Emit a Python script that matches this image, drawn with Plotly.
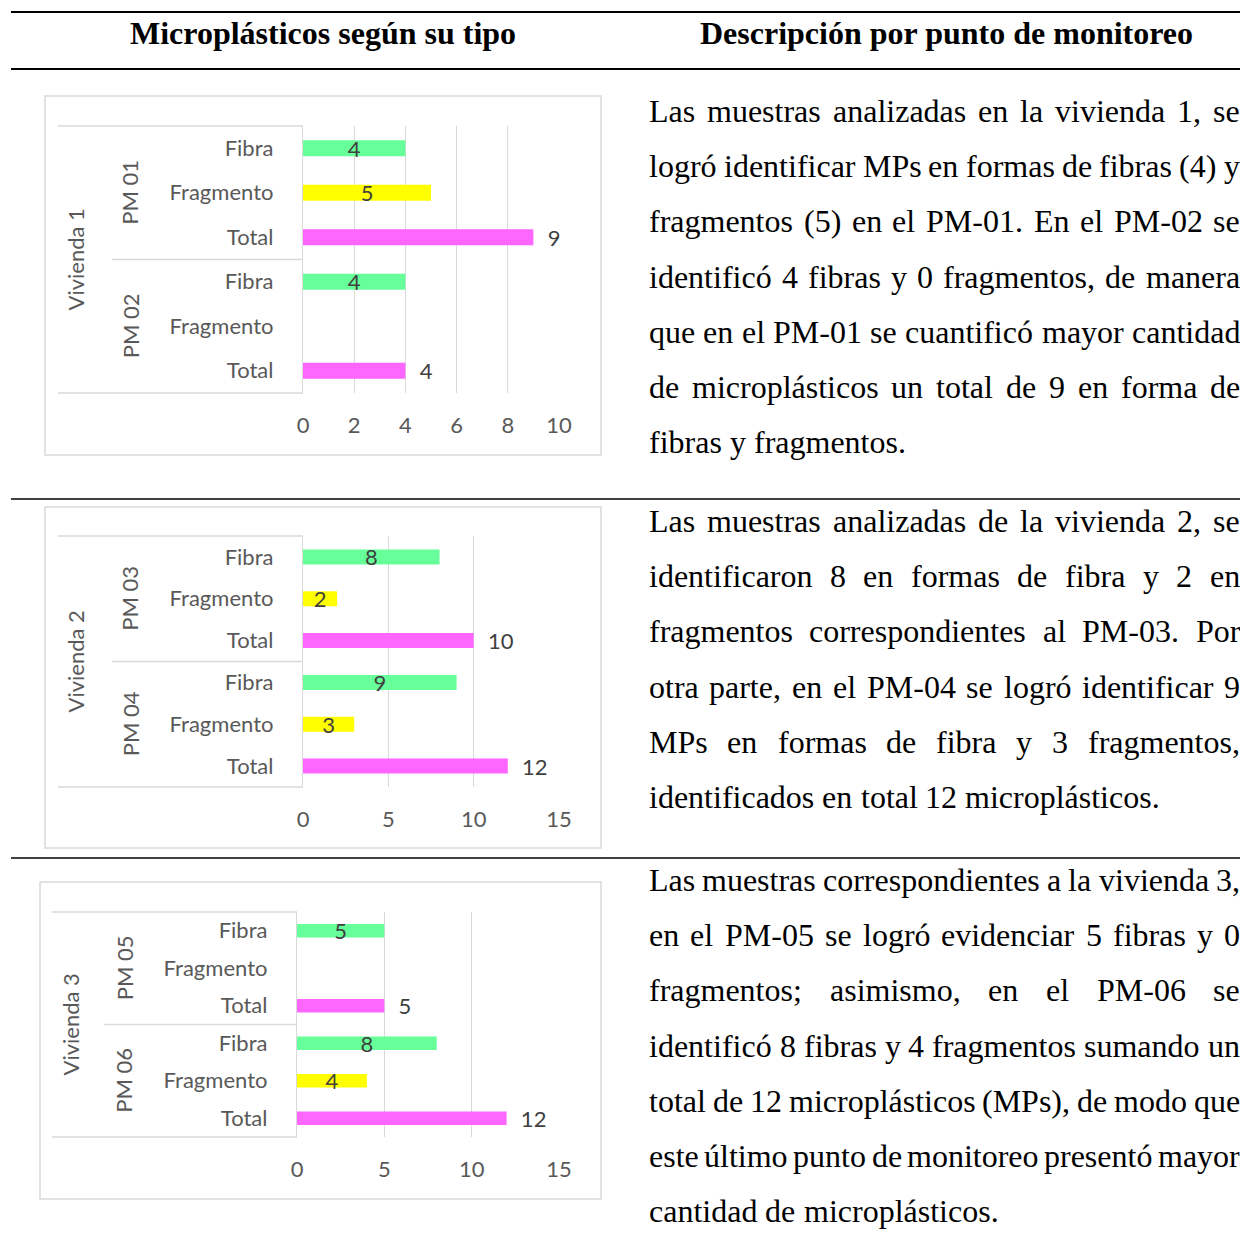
import plotly.graph_objects as go

# ---- data ----
viviendas = ["Vivienda 1", "Vivienda 2", "Vivienda 3"]
puntos = [["PM 01", "PM 02"], ["PM 03", "PM 04"], ["PM 05", "PM 06"]]
tipos = ["Fibra", "Fragmento", "Total"]
fibra = [4, 4, 8, 9, 5, 8]
fragmento = [5, None, 2, 3, None, 4]
total = [9, 4, 10, 12, 5, 12]
eje_max = [10, 15, 15]
eje_paso = [2, 5, 5]

encabezados = ["Microplásticos según su tipo", "Descripción por punto de monitoreo"]
parrafos = [
    [
        "Las muestras analizadas en la vivienda 1, se",
        "logró identificar MPs en formas de fibras (4) y",
        "fragmentos (5) en el PM-01. En el PM-02 se",
        "identificó 4 fibras y 0 fragmentos, de manera",
        "que en el PM-01 se cuantificó mayor cantidad",
        "de microplásticos un total de 9 en forma de",
        "fibras y fragmentos.",
    ],
    [
        "Las muestras analizadas de la vivienda 2, se",
        "identificaron 8 en formas de fibra y 2 en",
        "fragmentos correspondientes al PM-03. Por",
        "otra parte, en el PM-04 se logró identificar 9",
        "MPs en formas de fibra y 3 fragmentos,",
        "identificados en total 12 microplásticos.",
    ],
    [
        "Las muestras correspondientes a la vivienda 3,",
        "en el PM-05 se logró evidenciar 5 fibras y 0",
        "fragmentos; asimismo, en el PM-06 se",
        "identificó 8 fibras y 4 fragmentos sumando un",
        "total de 12 microplásticos (MPs), de modo que",
        "este último punto de monitoreo presentó mayor",
        "cantidad de microplásticos.",
    ],
]

COLORES = {"Fibra": "#66FF99", "Fragmento": "#FFFF00", "Total": "#FF66FF"}
GRIS = "#D9D9D9"
TXT = "#595959"
SANS = "Lato, Calibri, sans-serif"
SERIF = "Liberation Serif, Times New Roman, serif"
CHART_FS = 22

# page geometry: the html body keeps an 8px margin, so the figure is sized to fit inside the window
OFF = 8
FW, FH = 1248 - 2 * OFF, 1241 - 2 * OFF


def px(x):
    return (x - OFF) / FW


def py(y):
    return 1 - (y - OFF) / FH


# chart boxes: frame, plot area, left edge of group lines, divider start, label x
charts = [
    dict(frame=(45, 96, 601, 455), plot=(303, 559, 126, 393), left=58, div=112, viv=75, pm=130),
    dict(frame=(45, 507, 601, 848), plot=(303, 559, 536, 787), left=58, div=112, viv=75, pm=130),
    dict(frame=(40, 882, 601, 1199), plot=(297, 559, 912, 1137), left=52, div=104, viv=70, pm=124),
]

fig = go.Figure()
shapes = []
annotations = []

for k, ch in enumerate(charts):
    ax = "" if k == 0 else str(k + 1)
    pm_a, pm_b = puntos[k]
    cats = [f"{pm}|{t}" for pm in (pm_a, pm_b) for t in tipos]
    vals, cols, texts, pos = [], [], [], []
    for j, pm in enumerate((pm_a, pm_b)):
        idx = 2 * k + j
        for t, v in zip(tipos, (fibra[idx], fragmento[idx], total[idx])):
            vals.append(v)
            cols.append(COLORES[t])
            if v is None:
                texts.append("")
            elif t == "Total":
                texts.append(f"  {v}")
            else:
                texts.append(str(v))
            pos.append("outside" if t == "Total" else "inside")

    fig.add_trace(
        go.Bar(
            x=vals,
            y=cats,
            orientation="h",
            width=0.36,
            marker=dict(color=cols, line=dict(width=0)),
            text=texts,
            textposition=pos,
            textangle=0,
            insidetextanchor="middle",
            constraintext="none",
            cliponaxis=False,
            textfont=dict(family=SANS, size=CHART_FS, color="#404040"),
            insidetextfont=dict(family=SANS, size=CHART_FS, color="#404040"),
            outsidetextfont=dict(family=SANS, size=CHART_FS, color="#404040"),
            xaxis="x" + ax,
            yaxis="y" + ax,
            hoverinfo="skip",
        )
    )

    x0, x1, y0, y1 = ch["plot"]
    fig.layout["xaxis" + ax] = dict(
        domain=[px(x0), px(x1)],
        anchor="y" + ax,
        range=[0, eje_max[k]],
        tick0=0,
        dtick=eje_paso[k],
        showgrid=True,
        gridcolor=GRIS,
        gridwidth=1.3,
        zeroline=False,
        showline=False,
        ticks="",
        ticklabelstandoff=17,
        tickfont=dict(family=SANS, size=CHART_FS, color=TXT),
        automargin=False,
        fixedrange=True,
    )
    fig.layout["yaxis" + ax] = dict(
        domain=[py(y1), py(y0)],
        anchor="x" + ax,
        type="category",
        categoryorder="array",
        categoryarray=cats,
        range=[5.5, -0.5],
        tickvals=cats,
        ticktext=tipos * 2,
        showgrid=False,
        zeroline=False,
        showline=True,
        linecolor=GRIS,
        linewidth=1.3,
        ticks="",
        ticklabelstandoff=24,
        tickfont=dict(family=SANS, size=CHART_FS, color=TXT),
        automargin=False,
        fixedrange=True,
    )

    # outer frame
    fx0, fy0, fx1, fy1 = ch["frame"]
    shapes.append(dict(type="rect", xref="paper", yref="paper",
                       x0=px(fx0), x1=px(fx1), y0=py(fy1), y1=py(fy0),
                       line=dict(color=GRIS, width=1.5), layer="below"))
    # group lines in the category area
    for yy in (y0, y1):
        shapes.append(dict(type="line", xref="paper", yref="paper",
                           x0=px(ch["left"]), x1=px(x0), y0=py(yy), y1=py(yy),
                           line=dict(color=GRIS, width=1.5)))
    ymid = (y0 + y1) / 2
    shapes.append(dict(type="line", xref="paper", yref="paper",
                       x0=px(ch["div"]), x1=px(x0), y0=py(ymid), y1=py(ymid),
                       line=dict(color=GRIS, width=1.5)))

    annotations.append(dict(text=viviendas[k], xref="paper", yref="y" + ax + " domain",
                            x=px(ch["viv"]), y=0.5, xanchor="center", yanchor="middle",
                            textangle=-90, showarrow=False,
                            font=dict(family=SANS, size=CHART_FS, color=TXT)))
    for pm in (pm_a, pm_b):
        annotations.append(dict(text=pm, xref="paper", yref="y" + ax,
                                x=px(ch["pm"]), y=f"{pm}|Fragmento", xanchor="center",
                                yanchor="middle", textangle=-90, showarrow=False,
                                font=dict(family=SANS, size=CHART_FS, color=TXT)))

# ---- table rules ----
for yy, w in ((12, 2.2), (69, 2.2), (499, 1.6), (858, 1.6)):
    shapes.append(dict(type="line", xref="paper", yref="paper",
                       x0=px(11), x1=1, y0=py(yy), y1=py(yy),
                       line=dict(color="black", width=w)))

for txt, xc in zip(encabezados, (323, 946)):
    annotations.append(dict(text=f"<b>{txt}</b>", xref="paper", yref="paper",
                            x=px(xc), y=py(33), xanchor="center", yanchor="middle",
                            showarrow=False,
                            font=dict(family=SERIF, size=32, color="black")))

# ---- justified text on the right ----
TNR = dict(zip("abcdefghijklmnopqrstuvwxyz",
               [444, 500, 444, 500, 444, 333, 500, 500, 278, 278, 500, 278, 778,
                500, 500, 500, 500, 333, 389, 278, 500, 500, 722, 500, 500, 444]))
TNR.update(dict(zip("ABCDEFGHIJKLMNOPQRSTUVWXYZ",
                    [722, 667, 667, 722, 611, 556, 722, 722, 333, 389, 722, 611, 889,
                     722, 722, 556, 722, 667, 556, 611, 722, 722, 944, 722, 722, 611])))
TNR.update({"á": 444, "é": 444, "í": 278, "ó": 500, "ú": 500, ",": 250, ".": 250,
            "-": 333, "(": 333, ")": 333, ";": 278, " ": 250})
FS = 32
LEFT, RIGHT = 649, 1240
LINE_STEP = 55.2
inicio = [111, 521, 880]


def ancho(s):
    return sum(TNR.get(c, 500) for c in s) * FS / 1000


for p, lineas in enumerate(parrafos):
    for i, linea in enumerate(lineas):
        yy = inicio[p] + i * LINE_STEP
        words = linea.split()
        ultima = i == len(lineas) - 1
        widths = [ancho(w) for w in words]
        if ultima or len(words) == 1:
            gap = ancho(" ")
        else:
            gap = (RIGHT - LEFT - sum(widths)) / (len(words) - 1)
        x = LEFT
        for j, (w, wd) in enumerate(zip(words, widths)):
            annotations.append(dict(text=w, xref="paper", yref="paper", x=px(x),
                                    y=py(yy), xanchor="left", yanchor="middle",
                                    showarrow=False, borderpad=0, borderwidth=0,
                                    font=dict(family=SERIF, size=FS, color="black")))
            x += wd + gap

fig.update_layout(
    width=FW,
    height=FH,
    margin=dict(l=0, r=0, t=0, b=0, autoexpand=False),
    paper_bgcolor="white",
    plot_bgcolor="white",
    showlegend=False,
    uniformtext=dict(minsize=CHART_FS, mode="show"),
    shapes=shapes,
    annotations=annotations,
)

fig.write_html("out.html")
